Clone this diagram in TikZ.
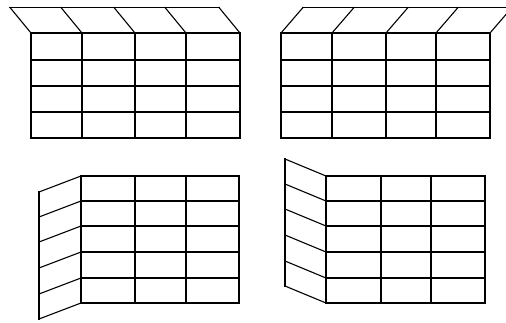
\documentclass[tikz,border=0pt]{standalone}
\begin{document}
\begin{tikzpicture}[x=1pt,y=-1pt,line width=1.1pt,line cap=rect,
  gridline/.style={draw=black,line width=1.1pt}]
\path[use as bounding box] (0,0) rectangle (506,323);
\clip (0,0) rectangle (506,323);
% top-left cabinet
\foreach \x in {31,82,135,186,240}{
  \draw[gridline] (\x,33) -- (\x,138);
  \draw[gridline] (\x,33) -- (\x-21,7.5);}
\foreach \y in {33,60,86,112,138}
  \draw[gridline] (31,\y) -- (240,\y);
\draw[gridline] (10,7.5) -- (219,7.5);
% top-right cabinet
\foreach \x in {281,332,386,436,490}{
  \draw[gridline] (\x,33) -- (\x,138);
  \draw[gridline] (\x,33) -- (\x+22,7.5);}
\foreach \y in {33,60,86,112,138}
  \draw[gridline] (281,\y) -- (490,\y);
\draw[gridline] (303,7.5) -- (515,7.5);
% bottom-left cabinet
\foreach \x in {81,135,186,239}
  \draw[gridline] (\x,176) -- (\x,303);
\foreach \y in {176,201,226,252,278,303}{
  \draw[gridline] (81,\y) -- (239,\y);
  \draw[gridline] (81,\y) -- (39,\y+16);}
\draw[gridline] (39,192) -- (39,319);
% bottom-right cabinet
\foreach \x in {326,381,431,485}
  \draw[gridline] (\x,176) -- (\x,303);
\foreach \y in {176,201,226,252,278,303}{
  \draw[gridline] (326,\y) -- (485,\y);
  \draw[gridline] (326,\y) -- (285,\y-17);}
\draw[gridline] (285,159) -- (285,286);
\end{tikzpicture}
\end{document}
